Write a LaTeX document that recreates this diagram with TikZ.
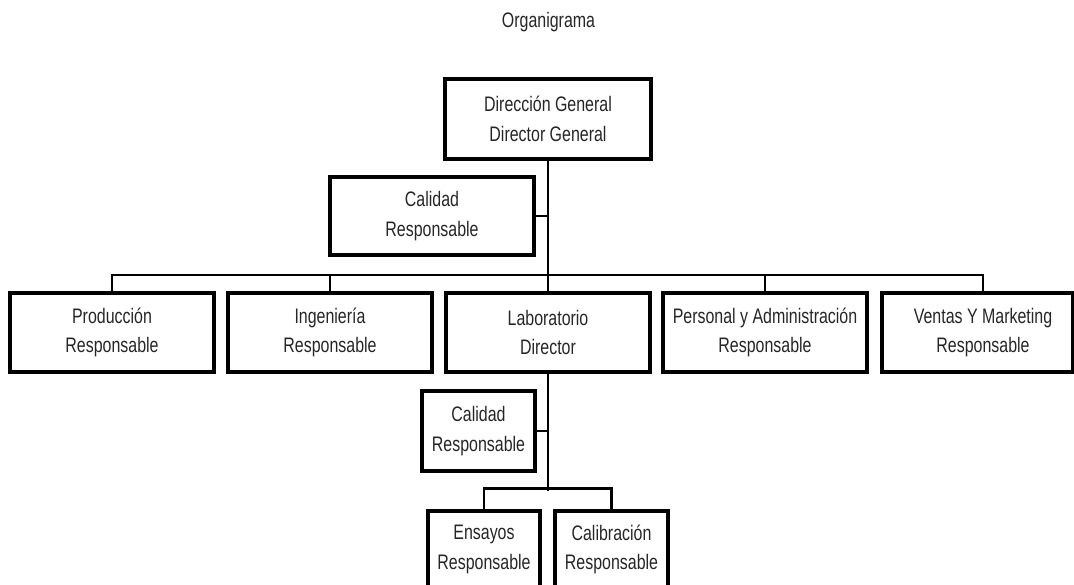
\documentclass[tikz,border=0pt]{standalone}
\usepackage{fontspec}
\setmainfont{Liberation Sans}[FakeStretch=0.76]
\begin{document}
\begin{tikzpicture}[x=1pt,y=-1pt,
  every node/.style={font=\fontsize{21}{29.5}\selectfont, text=black!85},
  unit/.style={draw, line width=3.3pt, minimum width=204pt, minimum height=79pt,
    inner sep=0pt, align=center},
  smallunit/.style={unit, minimum width=113pt, minimum height=80pt},
  link/.style={line width=2.7pt}]
\useasboundingbox (0,0) rectangle (1074,584);
\clip (0,0) rectangle (1074,584);

\node (title) at (548.5,22.5) {Organigrama};

% top level
\node[unit, minimum width=206pt, minimum height=80pt] (dg) at (548,119)
  {Dirección General\\Director General};
\node[unit, minimum height=78pt] (cal) at (432,216) {Calidad\\Responsable};

% departments
\node[unit] (prod) at (112,332.5) {Producción\\Responsable};
\node[unit] (ing)  at (330,332.5) {Ingeniería\\Responsable};
\node[unit] (lab)  at (548,332.5) {Laboratorio\\Director};
\node[unit] (pers) at (765,332.5) {Personal y Administración\\Responsable};
\node[unit, minimum width=191pt] (ven) at (977.5,332.5) {};
\node[align=center, inner sep=0pt] (ventxt) at (983,332.5) {Ventas Y Marketing\\Responsable};

% laboratory units
\node[smallunit] (cal2) at (478.5,431) {Calidad\\Responsable};
\node[smallunit, minimum width=112pt, minimum height=77pt] (ens) at (484,549.5) {Ensayos\\Responsable};
\node[smallunit, minimum height=77pt] (calib) at (611.5,549.5) {Calibración\\Responsable};

% connectors
\draw[link] (dg.south) -- (dg.south |- lab.north);
\draw[link] (cal.east) -- (cal.east -| dg.south);
\draw[link] (prod.north) -- ++(0,-16.5) -| (ventxt.north |- ven.north);
\draw[link] (ing.north) -- ++(0,-16.5);
\draw[link] (pers.north) -- ++(0,-16.5);
\draw[link] (lab.south) -- ++(0,117.5);
\draw[link] (cal2.east) -- (cal2.east -| lab.south);
\draw[link] (ens.north) -- ++(0,-21) -| (calib.north);
\end{tikzpicture}
\end{document}
